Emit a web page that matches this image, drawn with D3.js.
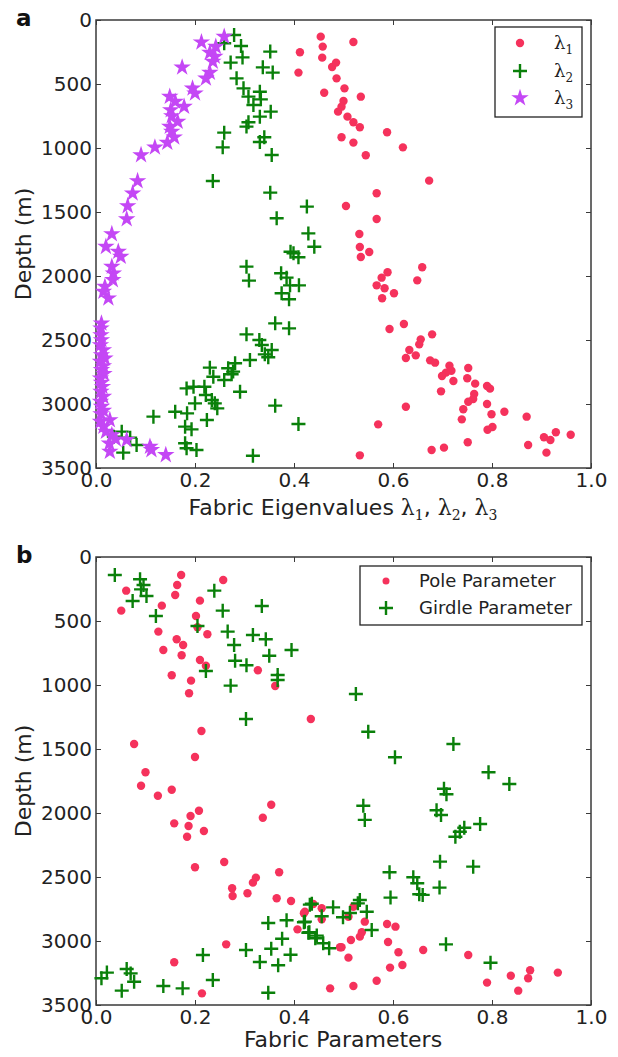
<!DOCTYPE html>
<html><head><meta charset="utf-8">
<script src="https://cdn.jsdelivr.net/npm/d3@7"></script>
<style>body{margin:0;background:#fff}svg{display:block}</style>
</head><body><svg id="c" width="618" height="1057"></svg>
<script>
// ---------- data: [value, depth (m)] ----------
const lambda1 = [[0.454,130],[0.458,208],[0.520,172],[0.412,252],[0.409,411],[0.457,294],[0.477,367],[0.485,333],[0.486,456],[0.502,534],[0.461,568],[0.535,599],[0.500,633],[0.496,677],[0.489,716],[0.508,755],[0.520,799],[0.533,838],[0.588,877],[0.496,916],[0.520,958],[0.620,995],[0.545,1057],[0.673,1255],[0.567,1354],[0.505,1453],[0.567,1555],[0.532,1672],[0.533,1773],[0.552,1812],[0.535,1852],[0.659,1932],[0.649,2034],[0.589,1971],[0.577,2013],[0.567,2073],[0.583,2096],[0.602,2135],[0.578,2174],[0.622,2375],[0.593,2414],[0.679,2456],[0.656,2495],[0.653,2534],[0.633,2578],[0.646,2620],[0.626,2641],[0.675,2659],[0.685,2677],[0.714,2701],[0.718,2740],[0.707,2755],[0.699,2781],[0.752,2719],[0.750,2799],[0.722,2820],[0.766,2841],[0.790,2859],[0.796,2880],[0.697,2901],[0.764,2922],[0.762,2961],[0.752,2982],[0.790,3000],[0.626,3021],[0.742,3041],[0.799,3080],[0.825,3060],[0.870,3099],[0.739,3120],[0.570,3159],[0.801,3180],[0.791,3201],[0.929,3221],[0.959,3240],[0.905,3260],[0.918,3281],[0.751,3299],[0.873,3320],[0.910,3380],[0.678,3359],[0.703,3341],[0.533,3401]];
const lambda2 = [[0.279,117],[0.259,182],[0.293,203],[0.352,247],[0.296,292],[0.272,333],[0.337,370],[0.357,411],[0.284,456],[0.298,534],[0.331,560],[0.308,599],[0.333,620],[0.318,664],[0.353,716],[0.331,755],[0.308,799],[0.304,833],[0.259,880],[0.340,916],[0.331,953],[0.256,995],[0.355,1055],[0.236,1258],[0.352,1349],[0.426,1458],[0.365,1549],[0.429,1667],[0.441,1771],[0.399,1823],[0.393,1810],[0.409,1854],[0.304,1927],[0.309,2036],[0.374,1979],[0.385,2013],[0.392,2073],[0.410,2073],[0.375,2135],[0.390,2182],[0.362,2370],[0.390,2409],[0.304,2456],[0.330,2500],[0.335,2539],[0.355,2578],[0.341,2612],[0.348,2635],[0.311,2656],[0.281,2682],[0.230,2716],[0.267,2721],[0.277,2747],[0.274,2768],[0.237,2787],[0.259,2812],[0.197,2865],[0.183,2878],[0.219,2865],[0.222,2930],[0.234,2969],[0.291,2904],[0.200,2995],[0.240,2995],[0.362,3013],[0.160,3060],[0.184,3073],[0.245,3034],[0.116,3099],[0.224,3125],[0.409,3156],[0.180,3177],[0.193,3198],[0.052,3216],[0.036,3255],[0.069,3263],[0.082,3320],[0.180,3307],[0.183,3346],[0.203,3359],[0.055,3380],[0.317,3404]];
const lambda3 = [[0.259,130],[0.213,174],[0.242,208],[0.230,255],[0.240,286],[0.236,325],[0.174,370],[0.230,411],[0.222,456],[0.195,534],[0.200,573],[0.149,599],[0.160,638],[0.178,677],[0.151,703],[0.153,750],[0.165,794],[0.149,833],[0.153,872],[0.158,916],[0.144,958],[0.119,995],[0.091,1055],[0.084,1258],[0.074,1354],[0.064,1453],[0.062,1555],[0.032,1672],[0.020,1771],[0.045,1810],[0.050,1849],[0.032,1927],[0.035,1979],[0.034,2031],[0.018,2083],[0.015,2122],[0.025,2174],[0.011,2370],[0.010,2409],[0.010,2461],[0.011,2500],[0.009,2539],[0.015,2578],[0.011,2617],[0.018,2643],[0.009,2669],[0.015,2703],[0.011,2734],[0.016,2765],[0.009,2799],[0.011,2833],[0.013,2865],[0.010,2904],[0.015,2943],[0.009,2982],[0.011,3021],[0.015,3052],[0.010,3078],[0.028,3125],[0.009,3138],[0.015,3177],[0.020,3216],[0.032,3242],[0.040,3276],[0.062,3281],[0.027,3307],[0.028,3372],[0.109,3333],[0.112,3359],[0.141,3398]];
const pole = [[0.172,141],[0.164,219],[0.160,297],[0.061,263],[0.051,419],[0.133,380],[0.210,341],[0.257,180],[0.202,461],[0.205,549],[0.225,604],[0.126,583],[0.163,643],[0.176,688],[0.136,727],[0.173,768],[0.210,805],[0.222,849],[0.327,885],[0.153,924],[0.192,966],[0.362,1008],[0.188,1065],[0.434,1266],[0.213,1359],[0.077,1461],[0.200,1563],[0.100,1682],[0.091,1787],[0.153,1818],[0.125,1865],[0.191,2023],[0.208,1982],[0.158,2081],[0.187,2102],[0.218,2141],[0.184,2185],[0.337,2037],[0.354,1935],[0.200,2424],[0.259,2383],[0.275,2588],[0.276,2648],[0.306,2627],[0.317,2544],[0.323,2505],[0.370,2463],[0.365,2666],[0.394,2688],[0.439,2711],[0.456,2744],[0.420,2783],[0.456,2831],[0.407,2909],[0.263,3026],[0.493,3049],[0.158,3166],[0.214,3409],[0.473,3370],[0.422,2771],[0.520,2732],[0.510,2810],[0.543,2849],[0.588,2867],[0.605,2888],[0.537,2932],[0.533,2966],[0.515,2992],[0.590,3008],[0.496,3049],[0.611,3088],[0.661,3070],[0.752,3109],[0.510,3130],[0.619,3187],[0.594,3208],[0.838,3271],[0.877,3229],[0.933,3247],[0.873,3291],[0.790,3325],[0.853,3388],[0.567,3310],[0.520,3352]];
const girdle = [[0.038,141],[0.089,174],[0.096,219],[0.102,305],[0.074,344],[0.091,253],[0.121,461],[0.205,539],[0.239,263],[0.256,419],[0.335,383],[0.266,583],[0.317,609],[0.343,643],[0.279,688],[0.395,727],[0.350,771],[0.281,810],[0.304,846],[0.222,891],[0.367,922],[0.367,961],[0.272,1005],[0.303,1266],[0.525,1070],[0.550,1365],[0.604,1565],[0.722,1461],[0.793,1682],[0.835,1773],[0.703,1810],[0.708,1854],[0.540,1943],[0.543,2054],[0.688,1978],[0.697,2016],[0.776,2086],[0.744,2115],[0.735,2146],[0.726,2185],[0.695,2380],[0.762,2419],[0.593,2463],[0.641,2502],[0.649,2549],[0.694,2583],[0.653,2635],[0.660,2640],[0.595,2661],[0.533,2680],[0.529,2706],[0.547,2771],[0.557,2914],[0.479,2737],[0.499,2815],[0.513,2781],[0.456,2807],[0.436,2709],[0.422,2849],[0.429,2935],[0.443,2979],[0.459,3018],[0.471,3057],[0.707,3026],[0.797,3170],[0.432,2716],[0.420,2854],[0.431,2932],[0.446,2958],[0.348,2859],[0.385,2838],[0.376,2982],[0.354,3060],[0.393,3107],[0.331,3164],[0.368,3190],[0.303,3070],[0.216,3109],[0.236,3305],[0.348,3404],[0.136,3352],[0.175,3370],[0.062,3219],[0.070,3253],[0.077,3318],[0.022,3247],[0.011,3291],[0.052,3388]];
const xTicks = [0, 0.2, 0.4, 0.6, 0.8, 1.0];
const yTicks = [0, 500, 1000, 1500, 2000, 2500, 3000, 3500];

// ---------- drawing ----------
const RED = "#f5325c", GREEN = "#0a800a", PURPLE = "#c447f5";
const svg = d3.select("#c");
const L = 96, R = 591;
const x = d3.scaleLinear().domain([0, 1]).range([L, R]);

function panel(top, label) {
  const bot = top + 448;
  const y = d3.scaleLinear().domain([0, 3500]).range([top, bot]);
  const g = svg.append("g");
  g.append("rect").attr("x", L).attr("y", top).attr("width", R - L).attr("height", bot - top)
    .attr("fill", "none").attr("stroke", "#3a3a3a").attr("stroke-width", 1.5);
  const tk = 5;
  const gb = g.append("g").attr("transform", `translate(0,${bot})`).call(d3.axisBottom(x).tickValues(xTicks).tickSizeInner(-tk).tickSizeOuter(0).tickPadding(4).tickFormat(d3.format(".1f")));
  const gt = g.append("g").attr("transform", `translate(0,${top})`).call(d3.axisTop(x).tickValues(xTicks).tickSizeInner(-tk).tickSizeOuter(0).tickFormat(""));
  const gl = g.append("g").attr("transform", `translate(${L},0)`).call(d3.axisLeft(y).tickValues(yTicks).tickSizeInner(-tk).tickSizeOuter(0).tickPadding(4).tickFormat(d3.format("d")));
  const gr = g.append("g").attr("transform", `translate(${R},0)`).call(d3.axisRight(y).tickValues(yTicks).tickSizeInner(-tk).tickSizeOuter(0).tickFormat(""));
  [gb, gt, gl, gr].forEach(a => {
    a.select(".domain").remove();
    a.selectAll("line").attr("stroke", "#3a3a3a").attr("stroke-width", 1);
    a.selectAll("text").attr("fill", "#222").style("font-family", "DejaVu Sans").style("font-size", "20px");
  });
  gb.selectAll("text").attr("dy", "0.73em");
  svg.append("text").attr("x", 16).attr("y", top + 6).text(label)
    .style("font-family", "DejaVu Sans").style("font-weight", "bold").style("font-size", "23px").attr("fill", "#111");
  svg.append("text").attr("transform", `translate(31,${(top + bot) / 2}) rotate(-90)`).attr("text-anchor", "middle")
    .text("Depth (m)").style("font-family", "DejaVu Sans").style("font-size", "22px").attr("fill", "#222");
  return { y, g, bot };
}

function dots(g, data, y) {
  g.selectAll(null).data(data).join("circle").attr("cx", d => x(d[0])).attr("cy", d => y(d[1])).attr("r", 4.2).attr("fill", RED);
}
function pluses(g, data, y) {
  g.selectAll(null).data(data).join("path").attr("d", "M-7,0H7M0,-7V7")
    .attr("transform", d => `translate(${x(d[0])},${y(d[1])})`).attr("stroke", GREEN).attr("stroke-width", 2.4).attr("fill", "none");
}
const star = d3.symbol().type(d3.symbolStar).size(95);
function stars(g, data, y) {
  g.selectAll(null).data(data).join("path").attr("d", star)
    .attr("transform", d => `translate(${x(d[0])},${y(d[1])})`).attr("fill", PURPLE);
}

// panel a
const A = panel(20, "a");
const ga = svg.append("g");
dots(ga, lambda1, A.y); pluses(ga, lambda2, A.y); stars(ga, lambda3, A.y);

const xl = svg.append("text").attr("x", 343).attr("y", 515).attr("text-anchor", "middle")
  .style("font-family", "DejaVu Sans").style("font-size", "22px").attr("fill", "#222");
xl.append("tspan").text("Fabric Eigenvalues ");
["1", "2", "3"].forEach((s, i) => {
  xl.append("tspan").text("λ").style("font-family", "DejaVu Serif");
  xl.append("tspan").text(s).style("font-family", "DejaVu Serif").style("font-size", "14px").attr("dy", 5);
  if (i < 2) xl.append("tspan").text(", ").attr("dy", -5);
});

// legend a
const la = svg.append("g");
la.append("rect").attr("x", 495).attr("y", 27).attr("width", 87).attr("height", 90).attr("fill", "#fff").attr("stroke", "#222").attr("stroke-width", 1.3);
const legA = [["1", 43], ["2", 71], ["3", 98]];
dots(la, [[x.invert(520), 0]], () => 43);
pluses(la, [[x.invert(520), 0]], () => 71);
stars(la, [[x.invert(520), 0]], () => 98);
legA.forEach(([s, yy]) => {
  const t = la.append("text").attr("x", 554).attr("y", yy + 6).style("font-family", "DejaVu Serif").style("font-size", "18px").attr("fill", "#222");
  t.append("tspan").text("λ");
  t.append("tspan").text(s).style("font-size", "12px").attr("dy", 5);
});

// panel b
const B = panel(557, "b");
const gbp = svg.append("g");
dots(gbp, pole, B.y); pluses(gbp, girdle, B.y);
svg.append("text").attr("x", 343).attr("y", 1047).attr("text-anchor", "middle").text("Fabric Parameters")
  .style("font-family", "DejaVu Sans").style("font-size", "22px").attr("fill", "#222");

const lb = svg.append("g");
lb.append("rect").attr("x", 360).attr("y", 566).attr("width", 222).attr("height", 59).attr("fill", "#fff").attr("stroke", "#222").attr("stroke-width", 1.3);
lb.append("circle").attr("cx", 386).attr("cy", 581).attr("r", 3.5).attr("fill", RED);
pluses(lb, [[x.invert(386), 0]], () => 608);
[["Pole Parameter", 581], ["Girdle Parameter", 608]].forEach(([s, yy]) => {
  lb.append("text").attr("x", 419).attr("y", yy + 6).text(s).style("font-family", "DejaVu Sans").style("font-size", "18px").attr("fill", "#222");
});
</script></body></html>
